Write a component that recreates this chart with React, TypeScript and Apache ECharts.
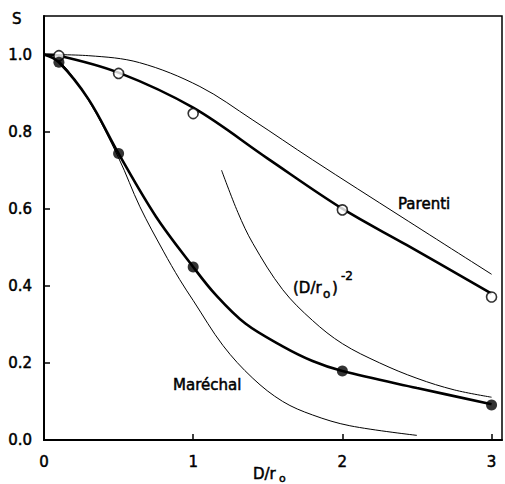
import React, { useEffect, useRef } from "react";
import * as echarts from "echarts";

// Measured points (markers)
const openX = [0.1, 0.5, 1, 2, 3];
const openS = [0.997, 0.951, 0.847, 0.597, 0.371];
const filledX = [0.1, 0.5, 1, 2, 3];
const filledS = [0.98, 0.743, 0.449, 0.179, 0.091];

// Thick fitted curves through the points
const openFitX = [0, 0.1, 0.5, 1, 1.5, 2, 2.43, 3];
const openFitS = [1.0, 0.997, 0.953, 0.862, 0.73, 0.6, 0.506, 0.38];
const filledFitX = [0, 0.1, 0.3, 0.5, 0.75, 1, 1.15, 1.35, 1.6, 1.8, 2, 2.5, 3];
const filledFitS = [1.0, 0.98, 0.883, 0.743, 0.58, 0.449, 0.377, 0.302, 0.243, 0.205, 0.179, 0.135, 0.093];

// Thin theoretical curves
const parentiX = [0, 0.3, 0.64, 1.045, 1.4, 1.8, 2.4, 3];
const parentiS = [1.0, 0.997, 0.979, 0.917, 0.83, 0.727, 0.578, 0.43];
const marechalX = [0, 0.1, 0.3, 0.5, 0.643, 0.8, 0.91, 1.0, 1.2, 1.4, 1.6, 1.8, 2.05, 2.5];
const marechalS = [1.0, 0.985, 0.88, 0.732, 0.605, 0.49, 0.416, 0.362, 0.245, 0.16, 0.1, 0.065, 0.037, 0.012];
const powerX = [1.19, 1.3, 1.4, 1.6, 1.8, 2, 2.25, 2.5, 2.75, 3];
const powerS = [0.7, 0.59, 0.51, 0.39, 0.31, 0.25, 0.2, 0.16, 0.13, 0.111];

const xLabels = [0, 1, 2, 3];
const xTicks = [1, 2, 3];
const yLabels = [0, 0.2, 0.4, 0.6, 0.8, 1.0];
const yTicks = [0.2, 0.4, 0.6, 0.8];

const FONT = '"DejaVu Sans", sans-serif';

const zip = (xs: number[], ys: number[]) => xs.map((x, i) => [x, ys[i]]);

export default function App() {
  const ref = useRef<HTMLDivElement>(null);
  useEffect(() => {
    if (!ref.current) return;
    const chart = echarts.init(ref.current, null, { renderer: "svg" });
    const thin = (name: string, xs: number[], ys: number[]) => ({
      name,
      type: "line",
      data: zip(xs, ys),
      showSymbol: false,
      smooth: 0.35,
      lineStyle: { color: "#000", width: 1 },
      z: 2,
    });
    const thick = (name: string, xs: number[], ys: number[]) => ({
      name,
      type: "line",
      data: zip(xs, ys),
      showSymbol: false,
      smooth: 0.35,
      lineStyle: { color: "#000", width: 2.6 },
      z: 3,
    });
    const txt = (text: string, x: number, y: number, size = 15) => ({
      type: "text",
      x,
      y,
      style: {
        text,
        font: `${size}px ${FONT}`,
        fill: "#000",
        stroke: "#000",
        lineWidth: 0.5,
        textAlign: "left",
        textVerticalAlign: "middle",
      },
      z: 10,
    });
    const labelStyle = {
      color: "#000",
      fontFamily: FONT,
      fontSize: 15,
      textBorderColor: "#000",
      textBorderWidth: 0.5,
    };
    chart.setOption({
      animation: false,
      backgroundColor: "#fff",
      grid: {
        left: 44,
        right: 3,
        top: 16,
        bottom: 44,
        containLabel: false,
        outerBoundsMode: "none",
        show: true,
        borderColor: "#000",
        borderWidth: 1.5,
        backgroundColor: "transparent",
      },
      xAxis: {
        type: "value",
        min: 0,
        max: 3.07,
        interval: 1,
        axisLine: { lineStyle: { color: "#000", width: 2 } },
        axisTick: {
          inside: true,
          length: 6,
          customValues: xTicks,
          lineStyle: { color: "#000", width: 1.5 },
        },
        axisLabel: {
          ...labelStyle,
          customValues: xLabels,
          margin: 14,
          formatter: (v: number) => String(v),
        },
        splitLine: { show: false },
      },
      yAxis: {
        type: "value",
        min: 0,
        max: 1.1,
        interval: 0.2,
        axisLine: { lineStyle: { color: "#000", width: 2 } },
        axisTick: {
          inside: true,
          length: 6,
          customValues: yTicks,
          lineStyle: { color: "#000", width: 1.5 },
        },
        axisLabel: {
          ...labelStyle,
          customValues: yLabels,
          margin: 12,
          formatter: (v: number) => v.toFixed(1),
        },
        splitLine: { show: false },
      },
      graphic: [
        txt("S", 12, 19),
        txt("Parenti", 398, 204),
        txt("Maréchal", 173, 385),
        txt("(D/r", 293, 288),
        txt("o", 323, 294, 12),
        txt(")", 332, 288),
        txt("-2", 341, 276, 12),
        txt("D/r", 253, 474),
        txt("o", 279, 478, 11),
      ],
      series: [
        thin("Parenti", parentiX, parentiS),
        thin("Maréchal", marechalX, marechalS),
        thin("(D/r0)^-2", powerX, powerS),
        thick("open fit", openFitX, openFitS),
        thick("filled fit", filledFitX, filledFitS),
        {
          name: "open",
          type: "scatter",
          data: zip(openX, openS),
          symbol: "circle",
          symbolSize: 10,
          itemStyle: { color: "#fff", borderColor: "#000", borderWidth: 1.6 },
          z: 5,
        },
        {
          name: "filled",
          type: "scatter",
          data: zip(filledX, filledS),
          symbol: "circle",
          symbolSize: 11,
          itemStyle: { color: "#000" },
          z: 5,
        },
      ],
    });
    return () => chart.dispose();
  }, []);
  return (
    <div
      ref={ref}
      style={{ position: "absolute", left: 0, top: 0, width: 505, height: 484 }}
    />
  );
}
